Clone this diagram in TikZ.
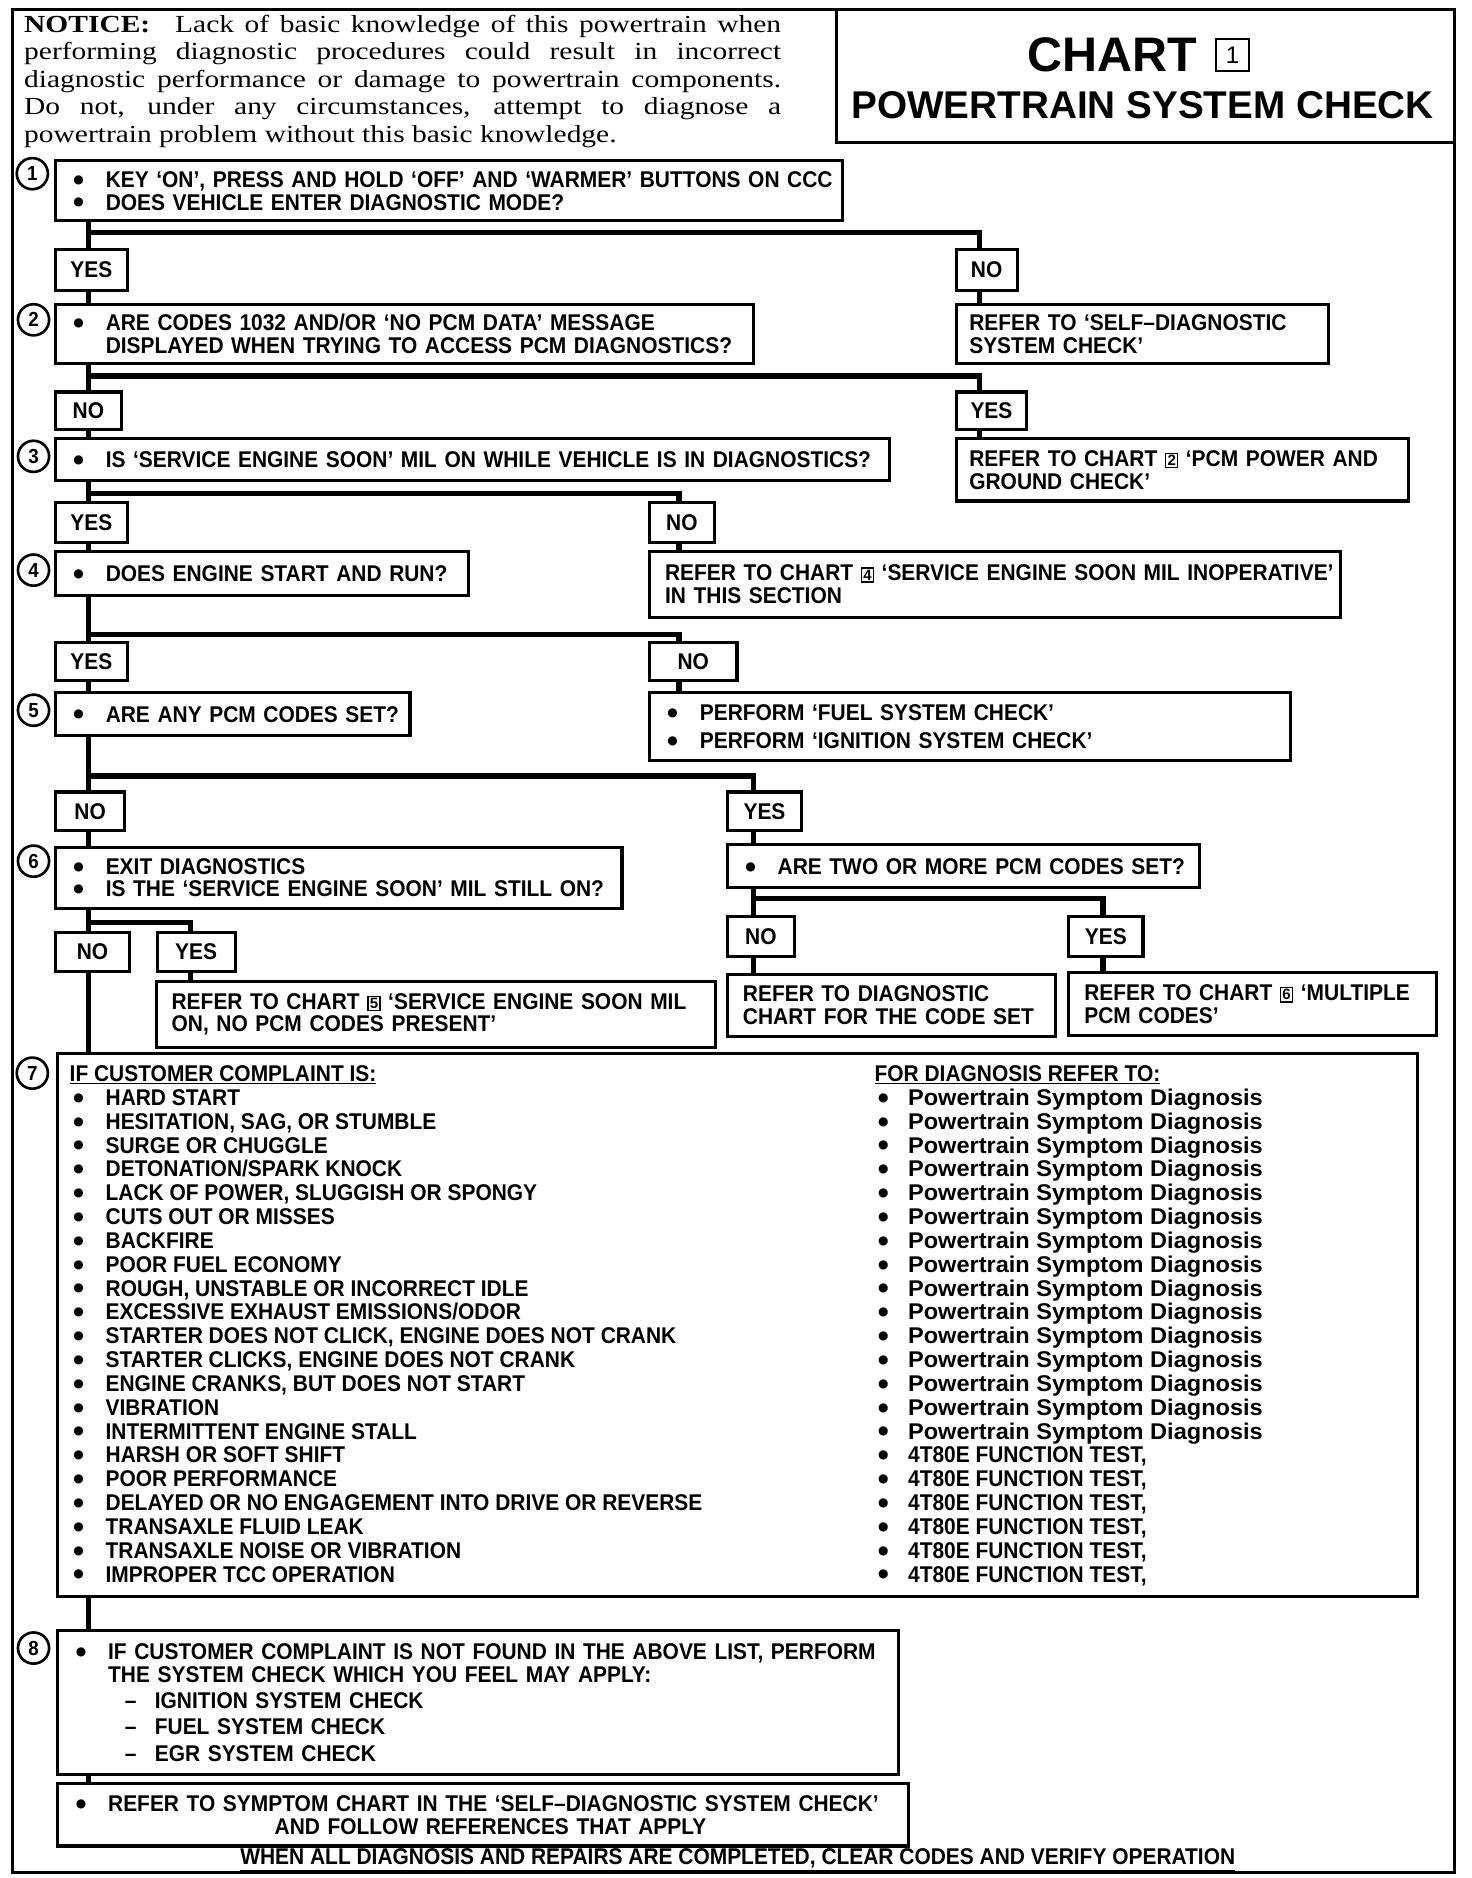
\documentclass[tikz,border=0pt]{standalone}
\usepackage{fontspec}
\setmainfont{Liberation Serif}
\newfontfamily\cs{Liberation Sans}[FakeStretch=0.92]
\newfontfamily\csw{Liberation Sans}[FakeStretch=1.035]
\newfontfamily\csn{Liberation Sans}
\newfontfamily\dv{DejaVu Sans}
\newfontfamily\nts{Liberation Serif}[FakeStretch=1.2]
\newcommand\mf{\cs\bfseries\fontsize{19}{19}\selectfont}
\newcommand\bdot{\raisebox{3.4pt}{\dv\fontsize{10}{10}\selectfont ●}}
\newcommand\blt{\makebox[29pt][l]{\hspace{2pt}\bdot}}
\newcommand\li[1]{\mbox{#1}}
\newcommand\bnum[1]{{\setlength\fboxsep{1pt}\setlength\fboxrule{1.1pt}\raisebox{0.5pt}{\fbox{\csn\fontsize{12.5}{12}\selectfont #1}}}}
\tikzset{
  box/.style={draw, line width=2.6pt, anchor=north west, inner xsep=13pt, inner ysep=0pt, align=left, font=\mf},
  yn/.style={draw, line width=2.6pt, anchor=north west, inner sep=0pt, font=\mf},
  conn/.style={line width=4.5pt},
  stepnum/.style={circle, draw, line width=2.2pt, minimum size=26pt, inner sep=0pt, font=\cs\bfseries\fontsize{17}{17}\selectfont},
  notice/.style={anchor=base west, inner sep=0pt, font=\nts\fontsize{20.5}{23}\selectfont},
  item/.style={anchor=base west, inner sep=0pt, font=\mf}
}
\begin{document}
\begin{tikzpicture}[x=1pt,y=-1pt]
\useasboundingbox (0,0) rectangle (1229,1568);
% frame and title
\node[draw, line width=2.4pt, anchor=north west, minimum width=1204pt, minimum height=1555pt, inner sep=0pt] (frame) at (9,7) {};
\node[draw, line width=2.6pt, anchor=north west, minimum width=516pt, minimum height=111pt, inner sep=0pt] (tb) at (697,7) {};
\node[inner sep=0pt, font=\csn\bfseries\fontsize{40.5}{40}\selectfont] (tc) at (929,46) {CHART};
\node[draw, line width=1.6pt, minimum width=27pt, minimum height=27pt, inner sep=0pt, font=\csn\fontsize{20}{20}\selectfont] (tn) at (1029,46) {1};
\node[inner sep=0pt, font=\csn\bfseries\fontsize{32.3}{32}\selectfont] (tp) at (954,88) {POWERTRAIN SYSTEM CHECK};
% notice
\node[notice] (nt1) at (20,27) {\makebox[632pt][s]{\textbf{NOTICE:}\hspace{12pt} Lack of basic knowledge of this powertrain when}};
\node[notice] (nt2) at (20,50) {\makebox[632pt][s]{performing diagnostic procedures could result in incorrect}};
\node[notice] (nt3) at (20,73) {\makebox[632pt][s]{diagnostic performance or damage to powertrain components.}};
\node[notice] (nt4) at (20,96) {\makebox[632pt][s]{Do not, under any circumstances, attempt to diagnose a}};
\node[notice] (nt5) at (20,119) {powertrain problem without this basic knowledge.};
% step boxes
\node[box, minimum width=657pt, minimum height=50pt, text width=631pt] (s1) at (45,133) {\li{\blt KEY ‘ON’, PRESS AND HOLD ‘OFF’ AND ‘WARMER’ BUTTONS ON CCC}\\ \li{\blt DOES VEHICLE ENTER DIAGNOSTIC MODE?}};
\node[box, minimum width=583pt, minimum height=49pt, text width=557pt] (s2) at (45,253) {\li{\blt ARE CODES 1032 AND/OR ‘NO PCM DATA’ MESSAGE}\\ \li{\hspace*{29pt}DISPLAYED WHEN TRYING TO ACCESS PCM DIAGNOSTICS?}};
\node[box, minimum width=696pt, minimum height=35pt, text width=670pt] (s3) at (45,365) {\li{\blt IS ‘SERVICE ENGINE SOON’ MIL ON WHILE VEHICLE IS IN DIAGNOSTICS?}};
\node[box, minimum width=345pt, minimum height=37pt, text width=319pt] (s4) at (45,459) {\li{\blt DOES ENGINE START AND RUN?}};
\node[box, minimum width=296pt, minimum height=36pt, text width=270pt] (s5) at (45,577) {\li{\blt ARE ANY PCM CODES SET?}};
\node[box, minimum width=473pt, minimum height=51pt, text width=447pt] (s6) at (45,706) {\li{\blt EXIT DIAGNOSTICS}\\ \li{\blt IS THE ‘SERVICE ENGINE SOON’ MIL STILL ON?}};
\node[box, minimum width=1135pt, minimum height=454pt, text width=1109pt] (s7) at (47,878) {};
\node[box, minimum width=702pt, minimum height=120pt, text width=676pt] (s8) at (47,1360) {\li{\blt IF CUSTOMER COMPLAINT IS NOT FOUND IN THE ABOVE LIST, PERFORM}\\ \li{\hspace*{29pt}THE SYSTEM CHECK WHICH YOU FEEL MAY APPLY:}\\[3pt] \li{\hspace*{43pt}\makebox[25pt][l]{–}IGNITION SYSTEM CHECK}\\[3pt] \li{\hspace*{43pt}\makebox[25pt][l]{–}FUEL SYSTEM CHECK}\\[3pt] \li{\hspace*{43pt}\makebox[25pt][l]{–}EGR SYSTEM CHECK}};
\node[box, minimum width=710pt, minimum height=52pt, text width=684pt] (fin) at (47,1488) {\li{\blt REFER TO SYMPTOM CHART IN THE ‘SELF–DIAGNOSTIC SYSTEM CHECK’}\\ \li{\hspace*{168pt}AND FOLLOW REFERENCES THAT APPLY}};
% right boxes
\node[box, inner xsep=11pt, minimum width=311pt, minimum height=49pt, text width=289pt] (sd) at (797,253) {\li{REFER TO ‘SELF–DIAGNOSTIC}\\\li{SYSTEM CHECK’}};
\node[box, inner xsep=11pt, minimum width=378pt, minimum height=52pt, text width=356pt] (pcm) at (797,365) {\li{REFER TO CHART \bnum{2} ‘PCM POWER AND}\\\li{GROUND CHECK’}};
\node[box, minimum width=577pt, minimum height=55pt, text width=551pt] (rc4) at (541,459) {\li{REFER TO CHART \bnum{4} ‘SERVICE ENGINE SOON MIL INOPERATIVE’}\\\li{IN THIS SECTION}};
\node[box, minimum width=535pt, minimum height=57pt, text width=509pt] (perf) at (541,577) {\li{\blt PERFORM ‘FUEL SYSTEM CHECK’}\\[4pt] \li{\blt PERFORM ‘IGNITION SYSTEM CHECK’}};
\node[box, minimum width=394pt, minimum height=36pt, text width=368pt] (two) at (606,704) {\li{\blt ARE TWO OR MORE PCM CODES SET?}};
\node[box, minimum width=467pt, minimum height=55pt, text width=441pt] (rc5) at (129,818) {\li{REFER TO CHART \bnum{5} ‘SERVICE ENGINE SOON MIL}\\\li{ON, NO PCM CODES PRESENT’}};
\node[box, minimum width=274pt, minimum height=52pt, text width=248pt] (dc) at (606,812) {\li{REFER TO DIAGNOSTIC}\\\li{CHART FOR THE CODE SET}};
\node[box, minimum width=307pt, minimum height=52pt, text width=281pt] (rc6) at (891,811) {\li{REFER TO CHART \bnum{6} ‘MULTIPLE}\\\li{PCM CODES’}};
% yes / no boxes
\node[yn, minimum width=60pt, minimum height=34pt] (y1) at (45,207) {YES};
\node[yn, minimum width=51pt, minimum height=34pt] (n1) at (797,207) {NO};
\node[yn, minimum width=55pt, minimum height=31pt] (n2) at (45,326) {NO};
\node[yn, minimum width=59pt, minimum height=31pt] (y2) at (797,326) {YES};
\node[yn, minimum width=60pt, minimum height=34pt] (y3) at (45,418) {YES};
\node[yn, minimum width=54pt, minimum height=34pt] (n3) at (541,418) {NO};
\node[yn, minimum width=60pt, minimum height=32pt] (y4) at (45,535) {YES};
\node[yn, minimum width=73pt, minimum height=32pt] (n4) at (541,535) {NO};
\node[yn, minimum width=58pt, minimum height=32pt] (n5) at (45,660) {NO};
\node[yn, minimum width=62pt, minimum height=32pt] (y5) at (606,660) {YES};
\node[yn, minimum width=62pt, minimum height=33pt] (n6) at (45,777) {NO};
\node[yn, minimum width=65pt, minimum height=33pt] (y6) at (130,777) {YES};
\node[yn, minimum width=56pt, minimum height=33pt] (n7) at (606,764) {NO};
\node[yn, minimum width=62pt, minimum height=33pt] (y7) at (891,764) {YES};
% step numbers
\node[stepnum] (cn1) at (27,145) {1};
\node[stepnum] (cn2) at (28,267) {2};
\node[stepnum] (cn3) at (28,381) {3};
\node[stepnum] (cn4) at (28,476) {4};
\node[stepnum] (cn5) at (28,593) {5};
\node[stepnum] (cn6) at (28,719) {6};
\node[stepnum] (cn7) at (27,896) {7};
\node[stepnum] (cn8) at (28,1376) {8};
% connectors
\coordinate (tr) at (74,0);
\coordinate (ca) at (818,0);
\coordinate (cb) at (567,0);
\coordinate (cc) at (629,0);
\coordinate (cd) at (921,0);
\coordinate (ce) at (159,0);
\coordinate (b1) at (74,194);
\coordinate (b2) at (74,314);
\coordinate (b3) at (74,412);
\coordinate (b4) at (74,530);
\coordinate (b5) at (74,648);
\coordinate (b6) at (74,770);
\coordinate (b7) at (629,750);
\draw[conn] (tr |- s1.south) -- (tr |- y1.north);
\draw[conn] (b1) -| (ca |- n1.north);
\draw[conn] (tr |- y1.south) -- (tr |- s2.north);
\draw[conn] (ca |- n1.south) -- (ca |- sd.north);
\draw[conn] (tr |- s2.south) -- (tr |- n2.north);
\draw[conn] (b2) -| (ca |- y2.north);
\draw[conn] (tr |- n2.south) -- (tr |- s3.north);
\draw[conn] (ca |- y2.south) -- (ca |- pcm.north);
\draw[conn] (tr |- s3.south) -- (tr |- y3.north);
\draw[conn] (b3) -| (cb |- n3.north);
\draw[conn] (tr |- y3.south) -- (tr |- s4.north);
\draw[conn] (cb |- n3.south) -- (cb |- rc4.north);
\draw[conn] (tr |- s4.south) -- (tr |- y4.north);
\draw[conn] (b4) -| (cb |- n4.north);
\draw[conn] (tr |- y4.south) -- (tr |- s5.north);
\draw[conn] (cb |- n4.south) -- (cb |- perf.north);
\draw[conn] (tr |- s5.south) -- (tr |- n5.north);
\draw[conn] (b5) -| (cc |- y5.north);
\draw[conn] (tr |- n5.south) -- (tr |- s6.north);
\draw[conn] (cc |- y5.south) -- (cc |- two.north);
\draw[conn] (tr |- s6.south) -- (tr |- n6.north);
\draw[conn] (b6) -| (ce |- y6.north);
\draw[conn] (tr |- n6.south) -- (tr |- s7.north);
\draw[conn] (ce |- y6.south) -- (ce |- rc5.north);
\draw[conn] (cc |- two.south) -- (cc |- n7.north);
\draw[conn] (b7) -| (cd |- y7.north);
\draw[conn] (cc |- n7.south) -- (cc |- dc.north);
\draw[conn] (cd |- y7.south) -- (cd |- rc6.north);
\draw[conn] (tr |- s7.south) -- (tr |- s8.north);
\draw[conn] (tr |- s8.south) -- (tr |- fin.north);
% step 7 lists
\node[item] (lh) at (58,903) {\underline{IF CUSTOMER COMPLAINT IS:}};
\node[item] (rh) at (730,903) {\underline{FOR DIAGNOSIS REFER TO:}};
\foreach \t [count=\i] in {HARD START, {HESITATION, SAG, OR STUMBLE}, SURGE OR CHUGGLE, DETONATION/SPARK KNOCK, {LACK OF POWER, SLUGGISH OR SPONGY}, CUTS OUT OR MISSES, BACKFIRE, POOR FUEL ECONOMY, {ROUGH, UNSTABLE OR INCORRECT IDLE}, EXCESSIVE EXHAUST EMISSIONS/ODOR, {STARTER DOES NOT CLICK, ENGINE DOES NOT CRANK}, {STARTER CLICKS, ENGINE DOES NOT CRANK}, {ENGINE CRANKS, BUT DOES NOT START}, VIBRATION, INTERMITTENT ENGINE STALL, HARSH OR SOFT SHIFT, POOR PERFORMANCE, DELAYED OR NO ENGAGEMENT INTO DRIVE OR REVERSE, TRANSAXLE FLUID LEAK, TRANSAXLE NOISE OR VIBRATION, IMPROPER TCC OPERATION}
  \node[item] (L\i) at (59,{903+19.9*\i}) {\blt\t};
\foreach \i in {1,...,15}
  \node[item] (R\i) at (733,{903+19.9*\i}) {\makebox[25pt][l]{\bdot}{\csw\bfseries\fontsize{19}{19}\selectfont Powertrain Symptom Diagnosis}};
\foreach \i in {16,...,21}
  \node[item] (R\i) at (733,{903+19.9*\i}) {\makebox[25pt][l]{\bdot}4T80E FUNCTION TEST,};
% footer
\node[anchor=base, inner sep=0pt, font=\mf] (ft) at (616,1557) {\underline{WHEN ALL DIAGNOSIS AND REPAIRS ARE COMPLETED, CLEAR CODES AND VERIFY OPERATION}};
\end{tikzpicture}
\end{document}
